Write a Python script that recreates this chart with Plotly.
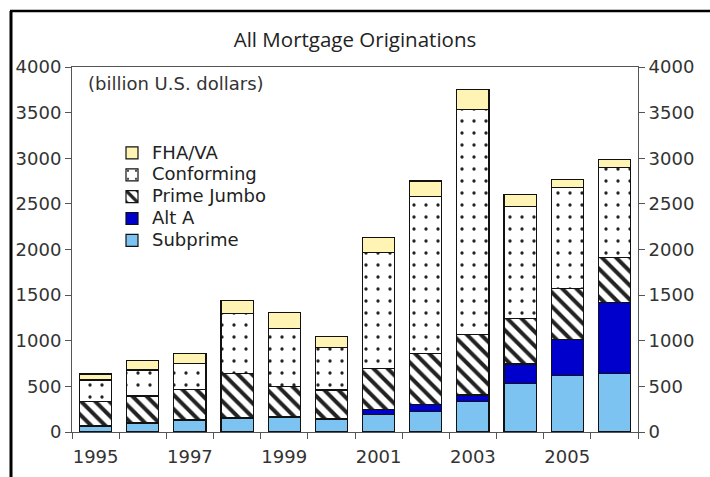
import plotly.graph_objects as go

# Mortgage originations by segment, billions of U.S. dollars
years = [1995, 1996, 1997, 1998, 1999, 2000, 2001, 2002, 2003, 2004, 2005, 2006]
subprime = [65, 95, 130, 150, 160, 140, 190, 225, 335, 530, 615, 640]
alt_a = [5, 5, 5, 5, 5, 5, 60, 75, 70, 215, 395, 775]
prime_jumbo = [265, 295, 330, 490, 330, 315, 450, 560, 660, 500, 565, 495]
conforming = [235, 285, 290, 655, 640, 470, 1265, 1720, 2465, 1225, 1105, 990]
fha_va = [65, 100, 105, 145, 175, 120, 170, 170, 220, 130, 85, 90]

year_ticks = [1995, 1997, 1999, 2001, 2003, 2005]
value_ticks = [0, 500, 1000, 1500, 2000, 2500, 3000, 3500, 4000]

TICK_FONT = dict(family="DejaVu Sans", size=18, color="#333333")
OUTLINE = dict(color="#111111", width=1.2)

fig = go.Figure()

def add_segment(name, values, color, pattern=None):
    marker = dict(color=color, line=OUTLINE)
    if pattern is not None:
        marker["pattern"] = pattern
    # legend rows are spaced by the legend font size; the label itself is larger
    label = '<span style="font-size:18px">%s</span>' % name
    fig.add_trace(go.Bar(x=years, y=values, name=label, marker=marker, width=0.68))

add_segment("Subprime", subprime, "#7dc3f2")
add_segment("Alt A", alt_a, "#0000cc")
add_segment("Prime Jumbo", prime_jumbo, "#ffffff",
            dict(shape="\\", size=10, solidity=0.4, fgcolor="#222222",
                 bgcolor="#ffffff", fillmode="replace"))
add_segment("Conforming", conforming, "#ffffff",
            dict(shape=".", size=12, solidity=0.06, fgcolor="#222222",
                 bgcolor="#ffffff", fillmode="replace"))
add_segment("FHA/VA", fha_va, "#fff4b3")

# empty trace so the right-hand value axis is drawn
fig.add_trace(go.Scatter(x=[], y=[], yaxis="y2", showlegend=False, hoverinfo="skip"))

axis_line = "#555555"

fig.update_layout(
    barmode="stack",
    width=710, height=477,
    margin=dict(l=72, r=72, t=67, b=45, autoexpand=False),
    paper_bgcolor="#ffffff",
    plot_bgcolor="#ffffff",
    title=dict(text="All Mortgage Originations", x=0.5, xanchor="center",
               y=1 - 40 / 477, yanchor="middle",
               font=dict(family="Open Sans", size=20.5, color="#222222")),
    xaxis=dict(range=[1994.5, 2006.5], tickmode="array", tickvals=year_ticks,
               ticks="", ticklabelstandoff=8, tickfont=TICK_FONT, automargin=False,
               showline=True, linecolor=axis_line, linewidth=1, mirror=True,
               showgrid=False, zeroline=False,
               minor=dict(tick0=1994.5, dtick=1, ticks="outside", ticklen=6,
                          tickcolor=axis_line, tickwidth=1, showgrid=False)),
    yaxis=dict(range=[0, 4000], tickmode="array", tickvals=value_ticks,
               ticks="outside", ticklen=6, tickcolor=axis_line, tickfont=TICK_FONT,
               automargin=False,
               showline=True, linecolor=axis_line, linewidth=1,
               showgrid=False, zeroline=False),
    yaxis2=dict(range=[0, 4000], overlaying="y", side="right", anchor="x",
                tickmode="array", tickvals=value_ticks,
                ticks="outside", ticklen=6, tickcolor=axis_line, tickfont=TICK_FONT,
                automargin=False,
                showline=True, linecolor=axis_line, linewidth=1,
                showgrid=False, zeroline=False),
    legend=dict(x=(112 - 72) / 566, y=(432 - 137) / 365, xanchor="left", yanchor="top",
                traceorder="reversed", bgcolor="rgba(0,0,0,0)",
                font=dict(family="DejaVu Sans", size=14.5, color="#222222")),
    annotations=[dict(text="(billion U.S. dollars)", xref="paper", yref="paper",
                      x=(86 - 72) / 566, y=(432 - 83) / 365,
                      xanchor="left", yanchor="middle", showarrow=False,
                      font=dict(family="DejaVu Sans", size=18, color="#333333"))],
    shapes=[
        # outer frame: left and top edges
        dict(type="line", xref="paper", yref="paper",
             x0=(11 - 72) / 566, x1=(11 - 72) / 566,
             y0=(432 - 490) / 365, y1=(432 - 11) / 365,
             line=dict(color="#000000", width=3)),
        dict(type="line", xref="paper", yref="paper",
             x0=(10 - 72) / 566, x1=(720 - 72) / 566,
             y0=(432 - 11) / 365, y1=(432 - 11) / 365,
             line=dict(color="#000000", width=2.5)),
    ],
)

fig.write_html("out.html")
